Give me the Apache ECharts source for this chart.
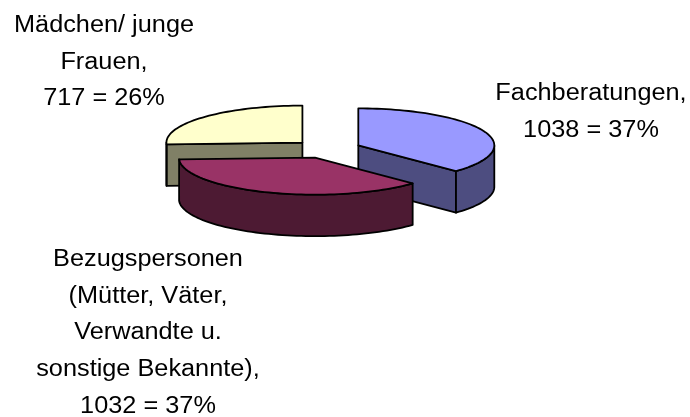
<!DOCTYPE html>
<html>
<head>
<meta charset="utf-8">
<script src="https://cdn.jsdelivr.net/npm/echarts@6/dist/echarts.min.js"></script>
<style>
  html, body { margin: 0; padding: 0; background: #fff; }
  #main { width: 690px; height: 417px; }
</style>
</head>
<body>
<div id="main"></div>
<script>
// Daten
var kategorien = ['Fachberatungen', 'Bezugspersonen\n(Mütter, Väter,\nVerwandte u.\nsonstige Bekannte)', 'Mädchen/ junge\nFrauen'];
var werte = [1038, 1032, 717];

// Farben: Deckel / Seitenwand
var farbeOben = ['#9999FF', '#993366', '#FFFFCC'];
var farbeSeite = ['#4D4D80', '#4D1A33', '#808066'];

// Geometrie der 3D-Torte (Pixel)
var mitte = [327, 149];
var rx = 136, ry = 37, hoehe = 41.5, explode = 0.25;
var labelPos = [[591, 75], [148, 241], [104, 7]];

var summe = werte.reduce(function (a, b) { return a + b; }, 0);
var start = [];
var acc = 0;
for (var i = 0; i < werte.length; i++) {
    start.push(acc / summe * 360);
    acc += werte[i];
}

function renderItem(params, api) {
    var i = params.dataIndex;
    var wert = api.value(0);
    var a1 = start[i], a2 = start[i] + wert / summe * 360;
    var m = (a1 + a2) / 2 * Math.PI / 180;
    var cx = mitte[0] + explode * rx * Math.sin(m);
    var cy = mitte[1] - explode * ry * Math.cos(m);

    function p(deg, dy) {
        var r = deg * Math.PI / 180;
        return [cx + rx * Math.sin(r), cy - ry * Math.cos(r) + (dy || 0)];
    }
    function bogen(b1, b2, dy) {
        var n = Math.max(2, Math.ceil(Math.abs(b2 - b1) / 2));
        var pts = [];
        for (var k = 0; k <= n; k++) pts.push(p(b1 + (b2 - b1) * k / n, dy));
        return pts;
    }
    function flaeche(pts, farbe, z) {
        return {
            type: 'polygon', z2: z,
            shape: { points: pts },
            style: { fill: farbe, stroke: '#000', lineWidth: 1.8, lineJoin: 'round' }
        };
    }
    function schnitt(deg) {
        var e = p(deg, 0);
        return [[cx, cy], e, [e[0], e[1] + hoehe], [cx, cy + hoehe]];
    }

    var base = Math.round(cy) * 10;
    var kinder = [];

    // Schnittflächen, nur wenn sie nach vorne zeigen
    if (Math.cos((a1 - 90) * Math.PI / 180) < -1e-6) kinder.push(flaeche(schnitt(a1), farbeSeite[i], base + 1));
    if (Math.cos((a2 + 90) * Math.PI / 180) < -1e-6) kinder.push(flaeche(schnitt(a2), farbeSeite[i], base + 1));

    // Außenwand (vordere Hälfte 90..270 Grad)
    var lo = Math.max(a1, 90), hi = Math.min(a2, 270);
    if (hi > lo) {
        var wand = bogen(lo, hi, 0).concat(bogen(hi, lo, hoehe));
        kinder.push(flaeche(wand, farbeSeite[i], base + 1));
    }

    // Deckel
    kinder.push(flaeche([[cx, cy]].concat(bogen(a1, a2, 0)), farbeOben[i], base + 2));

    // Beschriftung
    var pct = Math.round(wert / summe * 100);
    var txt = kategorien[i] + ',\n' + wert + ' = ' + pct + '%';
    kinder.push({
        type: 'text', z2: 9999,
        x: labelPos[i][0], y: labelPos[i][1], scaleX: 1.1,
        style: {
            text: txt, fill: '#000',
            font: '23px "Liberation Sans", Arial, sans-serif',
            align: 'center', verticalAlign: 'top',
            textAlign: 'center', textVerticalAlign: 'top',
            lineHeight: 36.8
        }
    });

    return { type: 'group', children: kinder };
}

var chart = echarts.init(document.getElementById('main'), null, { renderer: 'canvas' });
chart.setOption({
    animation: false,
    backgroundColor: '#fff',
    series: [{
        type: 'custom',
        coordinateSystem: 'none',
        silent: true,
        renderItem: renderItem,
        data: werte.map(function (v, k) { return { name: kategorien[k], value: [v] }; })
    }]
});
</script>
</body>
</html>
